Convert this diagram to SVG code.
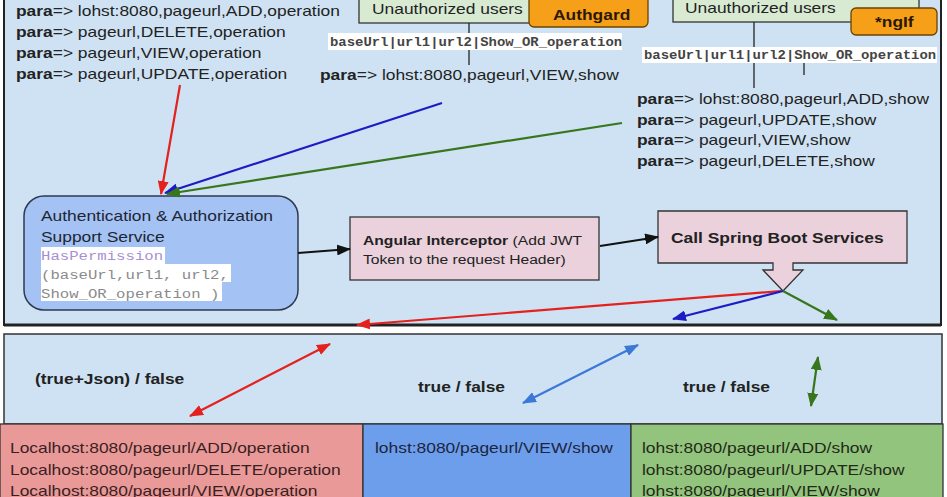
<svg xmlns="http://www.w3.org/2000/svg" width="947" height="497" viewBox="0 0 947 497">
<defs>
<style>
.t{font-family:"Liberation Sans",Arial,sans-serif;font-size:15px;fill:#222;transform-box:fill-box;transform-origin:0 50%;transform:scaleX(1.16);}
.b{font-weight:bold;}
.m{font-family:"Liberation Mono","Courier New",monospace;transform-box:fill-box;transform-origin:0 50%;transform:scaleX(1.16);}
.lbl{fill:#d9ead3;stroke:#333;stroke-width:1.3;}
.tag{fill:#f6a01a;stroke:#6b4300;stroke-width:1.3;}
.proc{fill:#ead1dc;stroke:#333;stroke-width:1.3;}
.wb{fill:#ffffff;}
.ln{stroke:#222;stroke-width:1.3;fill:none;}
.ar{fill:none;stroke-width:2.2;}
</style>
<marker id="hR" viewBox="0 0 14 11" refX="13" refY="5.5" markerWidth="14" markerHeight="11" markerUnits="userSpaceOnUse" orient="auto-start-reverse"><path d="M0,0 L14,5.5 L0,11 Z" fill="#e5211d"/></marker>
<marker id="hB" viewBox="0 0 14 11" refX="13" refY="5.5" markerWidth="14" markerHeight="11" markerUnits="userSpaceOnUse" orient="auto-start-reverse"><path d="M0,0 L14,5.5 L0,11 Z" fill="#1c1cc4"/></marker>
<marker id="hL" viewBox="0 0 14 11" refX="13" refY="5.5" markerWidth="14" markerHeight="11" markerUnits="userSpaceOnUse" orient="auto-start-reverse"><path d="M0,0 L14,5.5 L0,11 Z" fill="#3c78d8"/></marker>
<marker id="hG" viewBox="0 0 14 11" refX="13" refY="5.5" markerWidth="14" markerHeight="11" markerUnits="userSpaceOnUse" orient="auto-start-reverse"><path d="M0,0 L14,5.5 L0,11 Z" fill="#38761d"/></marker>
<marker id="hK" viewBox="0 0 14 11" refX="13" refY="5.5" markerWidth="14" markerHeight="11" markerUnits="userSpaceOnUse" orient="auto-start-reverse"><path d="M0,0 L14,5.5 L0,11 Z" fill="#111"/></marker>
</defs>
<rect x="0" y="0" width="947" height="497" fill="#ffffff"/>

<g id="panel-top">
<rect x="4" y="-3" width="937" height="328" fill="#cfe2f3" stroke="#222" stroke-width="2"/>
<line x1="4" y1="325" x2="941" y2="325" stroke="#222" stroke-width="3"/>
</g>
<g id="panel-middle">
<rect x="4" y="334" width="938" height="90" fill="#cfe2f3" stroke="#333" stroke-width="1.5"/>
<text class="t b" x="35" y="384">(true+Json) / false</text>
<text class="t b" x="418" y="392">true / false</text>
<text class="t b" x="683" y="392">true / false</text>
</g>

<g id="params-left">
<text class="t" x="16" y="16"><tspan class="b">para</tspan>=&gt; lohst:8080,pageurl,ADD,operation</text>
<text class="t" x="16" y="37"><tspan class="b">para</tspan>=&gt; pageurl,DELETE,operation</text>
<text class="t" x="16" y="58"><tspan class="b">para</tspan>=&gt; pageurl,VIEW,operation</text>
<text class="t" x="16" y="79"><tspan class="b">para</tspan>=&gt; pageurl,UPDATE,operation</text>
</g>

<g id="unauth-authgard">
<rect class="lbl" x="359" y="-3" width="190" height="26"/>
<text class="t" x="372" y="14">Unauthorized users</text>
<rect class="tag" x="529" y="-6" width="119" height="33" rx="5"/>
<text class="t b" x="553" y="20" style="fill:#2a1800">Authgard</text>
<line class="ln" x1="469" y1="23" x2="469" y2="33"/>
<rect class="wb" x="328" y="33" width="294" height="17"/>
<text class="m" x="330" y="46" font-size="12" font-weight="bold" fill="#444">baseUrl|url1|url2|Show_OR_operation</text>
<line class="ln" x1="469" y1="50" x2="469" y2="65"/>
<text class="t" x="320" y="80"><tspan class="b">para</tspan>=&gt; lohst:8080,pageurl,VIEW,show</text>
</g>

<g id="unauth-ngif">
<rect class="lbl" x="673" y="-3" width="246" height="25"/>
<text class="t" x="685" y="13">Unauthorized users</text>
<rect class="tag" x="851" y="8" width="86" height="27" rx="5"/>
<text class="t b" x="875" y="27" style="fill:#2a1800">*ngIf</text>
<line class="ln" x1="754" y1="22" x2="754" y2="48"/>
<rect class="wb" x="642" y="47" width="295" height="16"/>
<text class="m" x="644" y="59" font-size="12" font-weight="bold" fill="#444">baseUrl|url1|url2|Show_OR_operation</text>
<line class="ln" x1="754" y1="63" x2="754" y2="88"/>
<line class="ln" x1="804" y1="63" x2="804" y2="75"/>
<text class="t" x="637" y="104"><tspan class="b">para</tspan>=&gt; lohst:8080,pageurl,ADD,show</text>
<text class="t" x="637" y="125"><tspan class="b">para</tspan>=&gt; pageurl,UPDATE,show</text>
<text class="t" x="637" y="145"><tspan class="b">para</tspan>=&gt; pageurl,VIEW,show</text>
<text class="t" x="637" y="166"><tspan class="b">para</tspan>=&gt; pageurl,DELETE,show</text>
</g>

<g id="auth-service">
<rect x="24" y="196" width="274" height="114" rx="20" fill="#a4c2f4" stroke="#2c3a4f" stroke-width="1.5"/>
<text class="t" x="41" y="221" style="fill:#1d2633">Authentication &amp; Authorization</text>
<text class="t" x="41" y="242" style="fill:#1d2633">Support Service</text>
<rect class="wb" x="41" y="247" width="124" height="17"/>
<rect class="wb" x="41" y="264" width="190" height="18"/>
<rect class="wb" x="41" y="282" width="181" height="19"/>
<text class="m" x="41" y="260" font-size="13.5" fill="#a68fd3">HasPermission</text>
<text class="m" x="41" y="279" font-size="13.5" fill="#8a8a8a">(baseUrl,url1, url2,</text>
<text class="m" x="41" y="298" font-size="13.5" fill="#8a8a8a">Show_OR_operation )</text>
</g>

<g id="angular-interceptor">
<rect class="proc" x="350" y="217" width="249" height="63"/>
<text class="t" x="363" y="245" style="font-size:13.5px"><tspan class="b">Angular Interceptor</tspan> (Add JWT</text>
<text class="t" x="363" y="264" style="font-size:13.5px">Token to the request Header)</text>
</g>

<g id="spring-boot">
<path class="proc" d="M658,211 H907 V263 H793 V270 H803 L783,291 L763,270 H773 V263 H658 Z"/>
<text class="t b" x="671" y="243">Call Spring Boot Services</text>
</g>

<g id="result-operation">
<rect x="0" y="424" width="363" height="80" fill="#ea9999" stroke="#333" stroke-width="1.3"/>
<text class="t" x="10" y="453" style="fill:#3a1f1f">Localhost:8080/pageurl/ADD/operation</text>
<text class="t" x="10" y="475" style="fill:#3a1f1f">Localhost:8080/pageurl/DELETE/operation</text>
<text class="t" x="10" y="496" style="fill:#3a1f1f">Localhost:8080/pageurl/VIEW/operation</text>
</g>
<g id="result-view">
<rect x="363" y="424" width="268" height="80" fill="#6d9eeb" stroke="#333" stroke-width="1.3"/>
<text class="t" x="375" y="453" style="fill:#1c2540">lohst:8080/pageurl/VIEW/show</text>
</g>
<g id="result-show">
<rect x="631" y="424" width="312" height="80" fill="#93c47d" stroke="#333" stroke-width="1.3"/>
<text class="t" x="642" y="453" style="fill:#1f2a18">lohst:8080/pageurl/ADD/show</text>
<text class="t" x="642" y="475" style="fill:#1f2a18">lohst:8080/pageurl/UPDATE/show</text>
<text class="t" x="642" y="496" style="fill:#1f2a18">lohst:8080/pageurl/VIEW/show</text>
</g>

<g id="connectors">
<line class="ar" x1="180" y1="85" x2="161" y2="194" stroke="#e5211d" marker-end="url(#hR)"/>
<line class="ar" x1="442" y1="103" x2="165" y2="193" stroke="#1c1cc4" marker-end="url(#hB)"/>
<line class="ar" x1="622" y1="123" x2="167" y2="194" stroke="#38761d" marker-end="url(#hG)"/>
<line class="ar" x1="298" y1="253" x2="350" y2="249" stroke="#111" marker-end="url(#hK)"/>
<line class="ar" x1="600" y1="246" x2="658" y2="237" stroke="#111" marker-end="url(#hK)"/>
<line class="ar" x1="781" y1="291" x2="357" y2="325" stroke="#e5211d" marker-end="url(#hR)"/>
<line class="ar" x1="783" y1="291" x2="673" y2="319" stroke="#1c1cc4" marker-end="url(#hB)"/>
<line class="ar" x1="783" y1="291" x2="837" y2="320" stroke="#38761d" marker-end="url(#hG)"/>
<line class="ar" x1="190" y1="416" x2="330" y2="344" stroke="#e5211d" marker-start="url(#hR)" marker-end="url(#hR)"/>
<line class="ar" x1="523" y1="403" x2="638" y2="345" stroke="#3c78d8" marker-start="url(#hL)" marker-end="url(#hL)"/>
<line class="ar" x1="811" y1="406" x2="818" y2="357" stroke="#38761d" marker-start="url(#hG)" marker-end="url(#hG)"/>
</g>
</svg>
